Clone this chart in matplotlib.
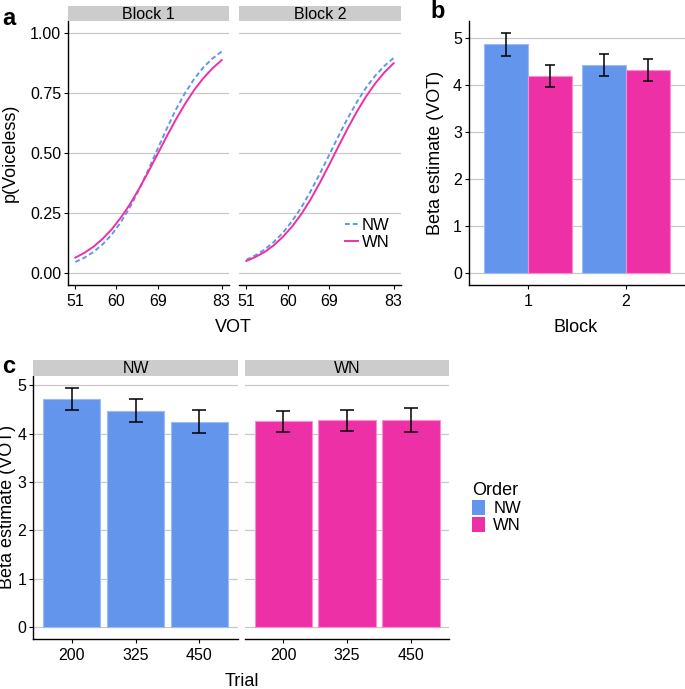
import numpy as np
import matplotlib
matplotlib.use("Agg")
import matplotlib.pyplot as plt
from matplotlib.lines import Line2D
from matplotlib.patches import Patch

plt.rcParams['font.family'] = ['Liberation Sans', 'DejaVu Sans']

# panel a: fitted curves, every 2 ms of VOT
vot = [51, 53, 55, 57, 59, 61, 63, 65, 67, 69, 71, 73, 75, 77, 79, 81, 83]
b1_nw = [0.046, 0.064, 0.088, 0.120, 0.161, 0.213, 0.276, 0.350, 0.432,
         0.517, 0.602, 0.681, 0.750, 0.809, 0.857, 0.894, 0.923]
b1_wn = [0.064, 0.084, 0.110, 0.143, 0.183, 0.232, 0.288, 0.353, 0.423,
         0.496, 0.570, 0.640, 0.705, 0.763, 0.812, 0.853, 0.887]
b2_nw = [0.055, 0.074, 0.098, 0.130, 0.169, 0.218, 0.275, 0.342, 0.415,
         0.492, 0.570, 0.644, 0.712, 0.772, 0.822, 0.863, 0.896]
b2_wn = [0.050, 0.067, 0.088, 0.116, 0.152, 0.195, 0.247, 0.308, 0.377,
         0.451, 0.527, 0.602, 0.672, 0.735, 0.790, 0.836, 0.874]

# panel b: beta per block
blocks = [1, 2]
b_nw = [4.86, 4.42]
b_nw_se = [0.245, 0.235]
b_wn = [4.19, 4.31]
b_wn_se = [0.23, 0.23]

# panel c: beta per trial, per order
trials = ['200', '325', '450']
c_nw = [4.72, 4.48, 4.25]
c_nw_se = [0.235, 0.23, 0.24]
c_wn = [4.26, 4.28, 4.29]
c_wn_se = [0.22, 0.22, 0.245]

BLUE = '#6495ed'
PINK = '#ee30a7'
GRID = '#c8c8c8'
STRIP = '#cccccc'
TITLE = 13

W, H = 685, 689
fig = plt.figure(figsize=(W / 100, H / 100), dpi=100)


def rect(x0, y0, x1, y1):
    # pixel box (top-left origin) -> figure fraction
    return [x0 / W, 1 - y1 / H, (x1 - x0) / W, (y1 - y0) / H]


def style(ax, left=True):
    for s in ['top', 'right']:
        ax.spines[s].set_visible(False)
    ax.spines['bottom'].set_linewidth(1.0)
    ax.spines['left'].set_linewidth(1.0)
    if not left:
        ax.spines['left'].set_visible(False)
        ax.tick_params(axis='y', left=False, labelleft=False)
    ax.tick_params(length=3, width=0.8, labelsize=11.5, pad=2, colors='black')
    ax.tick_params(axis='x', pad=3.5)
    ax.set_axisbelow(True)
    ax.yaxis.grid(True, color=GRID, lw=0.9)


def strip(x0, x1, y0, y1, label):
    s = fig.add_axes(rect(x0, y0, x1, y1))
    s.set_facecolor(STRIP)
    s.set_xticks([])
    s.set_yticks([])
    for sp in s.spines.values():
        sp.set_visible(False)
    s.text(0.5, 0.45, label, ha='center', va='center', fontsize=11.5,
           transform=s.transAxes)


# ---- panel a
for i, (x0, x1, nw, wn, lab) in enumerate([(68, 229, b1_nw, b1_wn, 'Block 1'),
                                           (239, 401, b2_nw, b2_wn, 'Block 2')]):
    ax = fig.add_axes(rect(x0, 21, x1, 285))
    style(ax, left=(i == 0))
    ax.plot(vot, nw, color=BLUE, lw=1.4, ls=(0, (2.5, 1.5)))
    ax.plot(vot, wn, color=PINK, lw=1.4)
    ax.set_xlim(49.4, 84.6)
    ax.set_ylim(-0.05, 1.05)
    ax.set_xticks([51, 60, 69, 83])
    ax.set_yticks([0, 0.25, 0.5, 0.75, 1.0])
    ax.set_yticklabels(['0.00', '0.25', '0.50', '0.75', '1.00'])
    strip(x0, x1, 6, 21, lab)
    if i == 1:
        hs = [Line2D([], [], color=BLUE, lw=1.4, ls=(0, (2.5, 1.5))),
              Line2D([], [], color=PINK, lw=1.4)]
        ax.legend(hs, ['NW', 'WN'], loc='upper left',
                  bbox_to_anchor=(345 / W, 1 - 218 / H),
                  bbox_transform=fig.transFigure, frameon=False, fontsize=12,
                  handlelength=0.8, handletextpad=0.2, labelspacing=0.1,
                  borderpad=0, borderaxespad=0)

fig.text(10 / W, 1 - 153 / H, 'p(Voiceless)', rotation=90, ha='center',
         va='center', fontsize=TITLE)
fig.text(233 / W, 1 - 327 / H, 'VOT', ha='center', va='center', fontsize=TITLE)
fig.text(2 / W, 1 - 25 / H, 'a', fontsize=17, fontweight='bold', va='baseline')

# ---- panel b
ax = fig.add_axes(rect(469, 21, 684.5, 285))
style(ax)
xb = np.array(blocks, dtype=float)
ax.bar(xb - 0.225, b_nw, width=0.45, color=BLUE, edgecolor='#9dbcf3', lw=0.8)
ax.bar(xb + 0.225, b_wn, width=0.45, color=PINK, edgecolor='#f58fcf', lw=0.8)
ax.errorbar(xb - 0.225, b_nw, yerr=b_nw_se, fmt='none', ecolor='black',
            elinewidth=1.1, capsize=3.3, capthick=1.1)
ax.errorbar(xb + 0.225, b_wn, yerr=b_wn_se, fmt='none', ecolor='black',
            elinewidth=1.1, capsize=3.3, capthick=1.1)
ax.set_xlim(0.4, 2.6)
ax.set_ylim(-0.255, 5.355)
ax.set_xticks(blocks)
ax.set_yticks([0, 1, 2, 3, 4, 5])
fig.text(435 / W, 1 - 153 / H, 'Beta estimate (VOT)', rotation=90,
         ha='center', va='center', fontsize=TITLE)
fig.text(576 / W, 1 - 327 / H, 'Block', ha='center', va='center',
         fontsize=TITLE)
fig.text(430 / W, 1 - 18 / H, 'b', fontsize=17, fontweight='bold',
         va='baseline')

# ---- panel c
xc = np.arange(1, len(trials) + 1)
for i, (x0, x1, vals, se, col, edge, lab) in enumerate([
        (33.3, 237.7, c_nw, c_nw_se, BLUE, '#9dbcf3', 'NW'),
        (245, 449.3, c_wn, c_wn_se, PINK, '#f58fcf', 'WN')]):
    ax = fig.add_axes(rect(x0, 375.7, x1, 639.3))
    style(ax, left=(i == 0))
    ax.bar(xc, vals, width=0.9, color=col, edgecolor=edge, lw=0.8)
    ax.errorbar(xc, vals, yerr=se, fmt='none', ecolor='black',
                elinewidth=1.1, capsize=4.8, capthick=1.1)
    ax.set_xlim(0.4, 3.6)
    ax.set_ylim(-0.25, 5.2)
    ax.set_xticks(xc)
    ax.set_xticklabels(trials)
    ax.set_yticks([0, 1, 2, 3, 4, 5])
    strip(x0, x1, 360, 375.7, lab)

fig.text(8 / W, 1 - 507 / H, 'Beta estimate (VOT)', rotation=90,
         ha='center', va='center', fontsize=TITLE)
fig.text(241.5 / W, 1 - 681 / H, 'Trial', ha='center', va='center',
         fontsize=TITLE)
fig.text(2 / W, 1 - 373 / H, 'c', fontsize=17, fontweight='bold',
         va='baseline')

hs = [Patch(facecolor=BLUE, edgecolor='none'),
      Patch(facecolor=PINK, edgecolor='none')]
leg = fig.legend(hs, ['NW', 'WN'], title='Order', loc='upper left',
                 bbox_to_anchor=(464 / W, 1 - 474 / H), frameon=False,
                 fontsize=12, title_fontsize=13, handlelength=0.75,
                 handleheight=1.0, handletextpad=0.5, labelspacing=0.05,
                 borderpad=0, alignment='left')

fig.savefig('out.png', dpi=100)
